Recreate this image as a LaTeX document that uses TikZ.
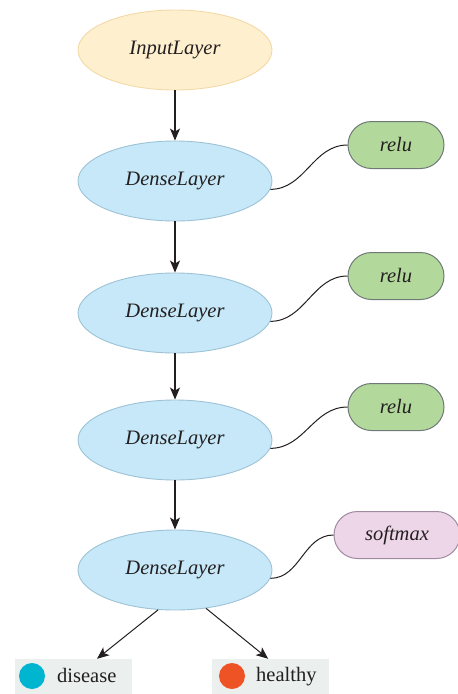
\documentclass[tikz,border=0pt]{standalone}
\usepackage{fontspec}
\setmainfont{Liberation Serif}
\usetikzlibrary{shapes.geometric,shapes.misc,arrows.meta,calc}
\definecolor{inFill}{HTML}{FEF0CF}
\definecolor{inDraw}{HTML}{F3D9A6}
\definecolor{dFill}{HTML}{C6E8F8}
\definecolor{dDraw}{HTML}{9DC3D5}
\definecolor{rFill}{HTML}{B2D89B}
\definecolor{rDraw}{HTML}{6F7A78}
\definecolor{sFill}{HTML}{EDD6E8}
\definecolor{sDraw}{HTML}{A08AA0}
\definecolor{lgFill}{HTML}{EBF0EF}
\definecolor{cDis}{HTML}{00B5D0}
\definecolor{cHea}{HTML}{EE5326}
\definecolor{txt}{HTML}{231F20}
\tikzset{
  layer/.style={ellipse, draw=dDraw, fill=dFill, line width=0.9pt, minimum width=194pt, minimum height=80pt, inner sep=0pt, font=\fontsize{20.5}{24}\selectfont\itshape, text=txt},
  inlayer/.style={layer, draw=inDraw, fill=inFill},
  actbox/.style={rounded rectangle, draw=rDraw, fill=rFill, line width=1pt, minimum width=96pt, minimum height=47pt, inner sep=0pt, font=\fontsize{20.5}{24}\selectfont\itshape, text=txt},
  smbox/.style={actbox, draw=sDraw, fill=sFill, minimum width=126pt},
  flow/.style={-{Stealth[length=12pt,width=10pt,inset=3pt]}, line width=1.1pt, draw=txt},
  link/.style={line width=1pt, draw=txt},
  lgbox/.style={rectangle, fill=lgFill, minimum width=117pt, minimum height=36pt, inner sep=0pt},
  lgdot/.style={circle, inner sep=0pt, minimum size=26pt},
  lgtext/.style={inner sep=0pt, anchor=west, font=\fontsize{20.5}{24}\selectfont, text=txt}
}
\begin{document}
\begin{tikzpicture}[x=1pt,y=-1pt]
\useasboundingbox (0,0) rectangle (458,694);
\node[inlayer] (in) at (175,50) {InputLayer};
\node[layer] (d1) at (175,181) {DenseLayer};
\node[layer] (d2) at (175,313) {DenseLayer};
\node[layer] (d3) at (175,440) {DenseLayer};
\node[layer] (d4) at (175,570) {DenseLayer};
\node[actbox] (r1) at (396,145) {relu};
\node[actbox] (r2) at (396,276) {relu};
\node[actbox] (r3) at (396,407) {relu};
\node[smbox] (sm) at (397,535) {softmax};
\draw[flow] (in) -- (d1);
\draw[flow] (d1) -- (d2);
\draw[flow] (d2) -- (d3);
\draw[flow] (d3) -- (d4);
\draw[link] (d1.-5) to[out=0,in=180] (r1.west);
\draw[link] (d2.-5) to[out=0,in=180] (r2.west);
\draw[link] (d3.-5) to[out=0,in=180] (r3.west);
\draw[link] (d4.-5) to[out=0,in=180] (sm.west);
\node[lgbox] (dis) at (73.5,677) {};
\node[lgdot, fill=cDis] (disdot) at (32,676) {};
\node[lgtext] (distxt) at (57,675) {disease};
\node[lgbox] (hea) at (270.5,677) {};
\node[lgdot, fill=cHea] (headot) at (232,676) {};
\node[lgtext] (heatxt) at (256,677) {healthy};
\coordinate (disin) at ($(dis.north west)!0.7!(dis.north east)$);
\coordinate (heain) at ($(hea.north west)!0.48!(hea.north east)$);
\draw[flow, line width=1pt] (d4.247) -- (disin);
\draw[flow, line width=1pt] (d4.-51) -- (heain);
\end{tikzpicture}
\end{document}
